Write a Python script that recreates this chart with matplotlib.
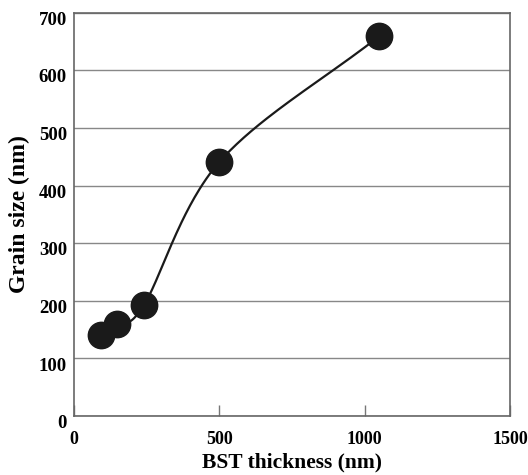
import matplotlib
matplotlib.use("Agg")
import matplotlib.pyplot as plt
import matplotlib.transforms as mtransforms
import numpy as np

thickness = [92, 149, 241, 500, 1049]
grain_size = [140, 160, 193, 441, 659]

x_ticks = [0, 500, 1000, 1500]
y_ticks = [0, 100, 200, 300, 400, 500, 600, 700]


def catmull_rom(px, py, n=60):
    # uniform catmull-rom through the points, for the smooth guide line
    pts = np.column_stack([px, py]).astype(float)
    pts = np.vstack([2 * pts[0] - pts[1], pts, 2 * pts[-1] - pts[-2]])
    t = np.linspace(0, 1, n)[:, None]
    out = []
    for i in range(1, len(pts) - 2):
        p0, p1, p2, p3 = pts[i - 1], pts[i], pts[i + 1], pts[i + 2]
        out.append(0.5 * (2 * p1 + (p2 - p0) * t
                          + (2 * p0 - 5 * p1 + 4 * p2 - p3) * t**2
                          + (3 * p1 - p0 - 3 * p2 + p3) * t**3))
    return np.vstack(out)


plt.rcParams['font.family'] = ['Liberation Serif', 'DejaVu Serif']

fig = plt.figure(figsize=(5.28, 4.75), dpi=100)
ax = fig.add_axes([0.140, 0.124, 0.826, 0.849])

# spline in scaled units so both axes weigh about the same
sx, sy = 435 / 1500, 403 / 700
curve = catmull_rom(np.array(thickness) * sx, np.array(grain_size) * sy)
ax.plot(curve[:, 0] / sx, curve[:, 1] / sy, color='#1a1a1a', lw=1.6, zorder=3)
ax.plot(thickness, grain_size, 'o', ms=19, color='#1a1a1a', zorder=4)

ax.set_xlim(0, 1500)
ax.set_ylim(0, 700)
ax.set_xticks(x_ticks)
ax.set_yticks(y_ticks)
ax.set_xticklabels([str(v) for v in x_ticks], fontsize=13, fontweight='bold')
ax.set_yticklabels([str(v) for v in y_ticks], fontsize=13.5, fontweight='bold')
ax.tick_params(axis='x', direction='in', length=8, width=1, color='#777777', pad=11)
ax.tick_params(axis='y', length=0, pad=5)
shift = mtransforms.ScaledTranslation(0, -4 / 72, fig.dpi_scale_trans)
for lab in ax.get_yticklabels():
    lab.set_transform(lab.get_transform() + shift)

ax.grid(axis='y', color='#888888', lw=1)
ax.set_axisbelow(True)
for s in ax.spines.values():
    s.set_color('#666666')
    s.set_linewidth(1.2)

ax.set_xlabel('BST thickness (nm)', fontsize=15.5, fontweight='bold', labelpad=3)
ax.set_ylabel('Grain size (nm)', fontsize=17, fontweight='bold', labelpad=6)

fig.savefig('out.png', dpi=100)
